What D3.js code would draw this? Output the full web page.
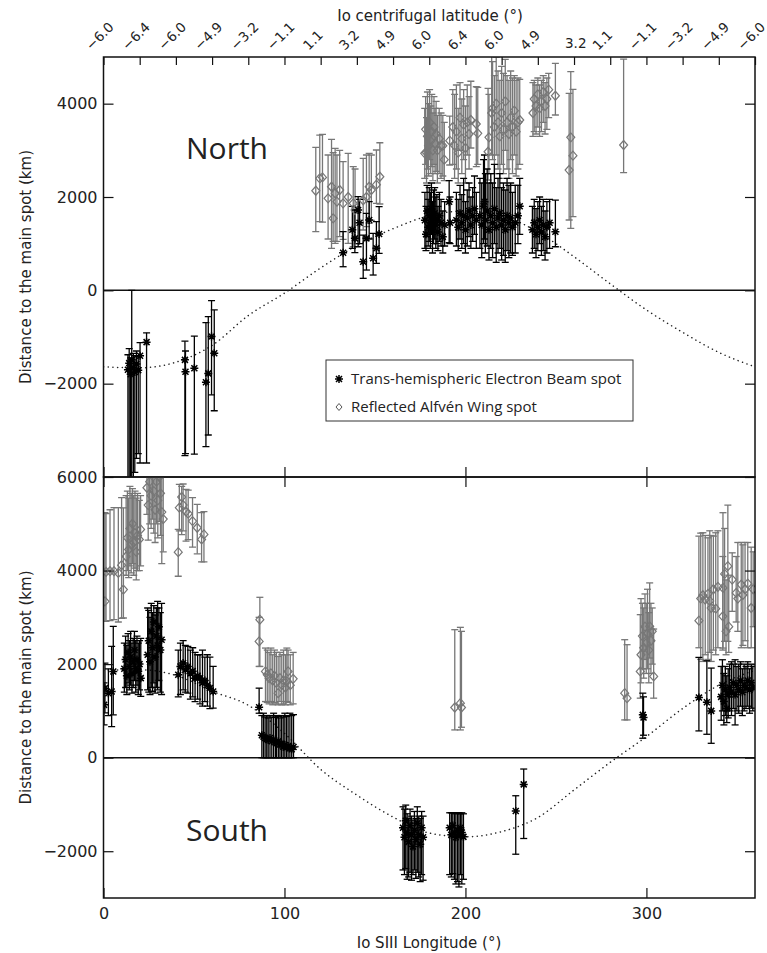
<!DOCTYPE html>
<html>
<head>
<meta charset="utf-8">
<script src="https://cdn.jsdelivr.net/npm/d3@7"></script>
<style>
body { margin: 0; background: #fff; }
svg { display: block; }
</style>
</head>
<body>
<svg id="chart" width="767" height="953"></svg>
<script>
// tick labels of the top axis (Io centrifugal latitude at every 20 deg of longitude)
const latLon = [0, 20, 40, 60, 80, 100, 120, 140, 160, 180, 200, 220, 240, 260, 280, 300, 320, 340, 360]
const latLabels = ["−6.0", "−6.4", "−6.0", "−4.9", "−3.2", "−1.1", "1.1", "3.2", "4.9", "6.0",
                   "6.4", "6.0", "4.9", "3.2", "1.1", "−1.1", "−3.2", "−4.9", "−6.0"]

// expected position (dotted curve), read every 20 deg
const curveLon = [0, 20, 40, 60, 80, 100, 120, 140, 160, 180, 200, 220, 240, 260, 280, 300, 320, 340, 360]
const northCurve = [-1640, -1660, -1540, -1180, -540, -60, 480, 960, 1320, 1600, 1700, 1600, 1250, 720, 140, -420, -900, -1330, -1640]
const southCurve = [1870, 1880, 1760, 1420, 1120, 520, -250, -800, -1270, -1610, -1693, -1580, -1280, -690, -100, 450, 1050, 1550, 1870]

// [longitude, distance, upper error, lower error]
const northBeam = [
  [13.5, -1700, -1380, -4200], [14.2, -1560, -1250, -4400], [15.0, -1800, -1450, -4300],
  [15.6, -1490, 0, -4500], [16.5, -1660, -1350, -4100], [17.3, -1750, -1400, -3900],
  [18.2, -1580, -1300, -3600], [19.2, -1710, -1420, -3500], [20.2, -1400, -1120, -3700],
  [23.8, -1110, -910, -3700],
  [45.0, -1490, -1090, -3540], [45.3, -1745, -1300, -3500], [50.2, -1670, -980, -3510],
  [56.6, -1970, -690, -3350], [57.9, -1780, -565, -3100], [59.7, -990, -220, -2240],
  [61.2, -1350, -420, -2580],
  [132.4, 806, 1256, 506], [137.5, 1300, 1800, 900], [138.9, 1114, 1721, 806],
  [140.7, 1721, 2006, 934], [141.5, 1450, 1950, 1000], [143.5, 613, 1185, 257],
  [145.3, 1114, 1650, 435], [146.8, 1507, 1900, 1100], [149.0, 686, 1221, 328],
  [150.8, 900, 1471, 578], [152.3, 1206, 1793, 793],
  [177.6, 1500, 2100, 900], [178.2, 1200, 1800, 850], [178.8, 1700, 2250, 1150],
  [179.4, 1350, 1950, 950], [180.0, 1600, 2200, 1050], [180.6, 1450, 2100, 900],
  [181.2, 1750, 2300, 1200], [181.8, 1300, 1900, 800], [182.4, 1550, 2150, 1000],
  [183.0, 1650, 2200, 1100], [183.6, 1400, 2000, 900], [184.2, 1500, 2050, 1000],
  [184.8, 1250, 1800, 850], [185.6, 1600, 2100, 1050], [186.5, 1450, 1950, 950],
  [187.5, 1150, 1700, 800], [188.5, 1400, 1900, 950], [191.0, 1900, 2350, 1020],
  [191.5, 1450, 2000, 1000],
  [195.0, 1500, 2100, 950], [196.0, 1350, 1950, 850], [197.0, 1650, 2250, 1100],
  [198.0, 1450, 2050, 900], [199.0, 1600, 2400, 1000], [200.0, 1300, 1900, 800],
  [201.0, 1550, 2150, 950], [202.0, 1700, 2300, 1150], [203.0, 1400, 2000, 900],
  [204.0, 1600, 2200, 1050], [205.0, 1750, 2450, 1200], [206.0, 1500, 2100, 900],
  [208.0, 1600, 2400, 900], [209.0, 1400, 2300, 700], [210.0, 1800, 2800, 1000],
  [210.5, 1900, 2900, 1100], [211.0, 1500, 2500, 800], [212.0, 1700, 2600, 950],
  [213.0, 1300, 2300, 650], [214.0, 1600, 2500, 900], [215.0, 1450, 2300, 700],
  [216.0, 1750, 2700, 1000], [217.0, 1350, 2200, 600], [218.0, 1550, 2400, 800],
  [219.0, 1650, 2500, 900], [220.0, 1400, 2200, 650], [221.0, 1500, 2300, 750],
  [222.0, 1300, 2150, 600], [223.0, 1600, 2400, 850], [224.0, 1450, 2250, 700],
  [225.0, 1550, 2300, 800], [226.0, 1350, 2100, 750], [227.5, 1450, 2250, 800],
  [229.0, 1600, 2250, 1000], [230.0, 1800, 2400, 1200],
  [237.0, 1300, 1800, 800], [238.0, 1450, 1950, 900], [239.0, 1200, 1750, 700],
  [240.0, 1350, 1900, 850], [241.0, 1500, 2000, 1000], [242.0, 1250, 1800, 750],
  [243.0, 1400, 1950, 850], [244.0, 1150, 1700, 650], [245.0, 1350, 1900, 800],
  [246.5, 1450, 1950, 900], [249.7, 1256, 1935, 934]
]

const northWing = [
  [117.3, 2134, 3064, 1256], [119.5, 2400, 3328, 1471], [121.0, 2420, 3340, 1460],
  [124.1, 1971, 2900, 1100], [126.0, 2220, 3235, 900], [126.9, 1543, 2950, 1050],
  [128.0, 2080, 3043, 1007], [129.0, 1900, 2900, 1050], [130.5, 2150, 3000, 1150],
  [132.4, 1864, 2757, 1093], [135.2, 2000, 2936, 1007], [138.0, 1864, 2650, 934],
  [139.0, 1720, 2600, 1000], [143.5, 1930, 2829, 1293], [145.3, 2000, 2900, 1364],
  [146.8, 2220, 2936, 1436], [148.0, 2150, 2900, 1500], [150.8, 2264, 3007, 1864],
  [152.7, 2434, 3163, 1850],
  [177.5, 2936, 3900, 2400], [178.0, 3450, 4150, 2700], [178.5, 2950, 3700, 2300],
  [179.0, 3300, 4250, 2600], [179.6, 3100, 4000, 2450], [180.2, 3600, 4300, 2800],
  [180.8, 3200, 3950, 2500], [181.4, 3400, 4200, 2650], [182.0, 3000, 3800, 2350],
  [182.6, 3500, 4150, 2700], [183.2, 3150, 3900, 2500], [183.8, 3350, 4050, 2550],
  [184.5, 3000, 3750, 2300], [185.5, 3250, 3900, 2500], [186.5, 3100, 3800, 2400],
  [187.5, 3100, 3750, 2450], [188.3, 2800, 3600, 2350], [191.3, 3207, 3735, 2686],
  [193.0, 3500, 4300, 2700], [194.0, 3100, 4200, 2400], [195.0, 3400, 4400, 2600],
  [196.0, 2950, 3900, 2300], [197.0, 3700, 4450, 3000], [198.0, 3250, 4100, 2500],
  [199.0, 3550, 4300, 2800], [200.0, 3050, 3950, 2300], [201.0, 3600, 4400, 2900],
  [202.0, 3350, 4150, 2600], [203.0, 3650, 4480, 3050], [206.0, 3564, 4363, 2650],
  [206.8, 3364, 4350, 2700], [212.5, 2970, 4328, 2364], [213.0, 3278, 4200, 2500],
  [214.5, 3800, 5200, 2900], [215.0, 3900, 4900, 2800], [216.0, 3500, 4600, 2500],
  [217.0, 4000, 5000, 2900], [218.0, 3600, 4700, 2600], [219.0, 3300, 4500, 2400],
  [220.0, 3800, 4800, 2700], [221.0, 3450, 4650, 2500], [222.0, 4050, 4950, 3000],
  [223.0, 3600, 4600, 2600], [224.0, 3350, 4500, 2400], [225.0, 3700, 4700, 2800],
  [226.0, 3500, 4550, 2500], [227.0, 3850, 4600, 2900], [228.0, 3400, 4500, 2450],
  [229.0, 3600, 4550, 2600], [230.0, 3650, 4520, 2700],
  [237.3, 3800, 4450, 3300], [238.0, 4100, 4500, 3400], [239.0, 3950, 4400, 3350],
  [240.0, 4200, 4550, 3500], [241.0, 3900, 4400, 3300], [242.0, 4050, 4500, 3400],
  [243.0, 4250, 4600, 3600], [244.0, 3950, 4450, 3350], [245.0, 4100, 4550, 3450],
  [246.0, 4300, 4650, 3700], [249.7, 4170, 4864, 3757],
  [257.3, 2578, 4220, 1507], [258.2, 3278, 4685, 1329], [259.4, 2885, 4307, 1579],
  [287.4, 3114, 4956, 2521]
]

const southBeam = [
  [0.3, 1129, 1600, 700], [0.8, 1486, 2023, 958], [2.7, 1379, 1900, 900],
  [4.5, 1414, 2378, 664], [5.4, 1843, 2807, 915],
  [11.5, 1900, 2450, 1400], [12.2, 2100, 2600, 1500], [12.9, 1750, 2400, 1350],
  [13.6, 2250, 2650, 1600], [14.3, 1950, 2500, 1450], [15.0, 2150, 2700, 1550],
  [15.7, 1800, 2450, 1380], [16.4, 2050, 2550, 1500], [17.1, 2300, 2700, 1650],
  [17.8, 1900, 2500, 1400], [18.5, 2100, 2600, 1550], [19.2, 1850, 2450, 1350],
  [19.9, 2000, 2500, 1450], [20.6, 1700, 2550, 1310],
  [24.4, 2200, 3200, 1450], [25.0, 2500, 3150, 1400], [25.7, 2050, 3000, 1350],
  [26.4, 2700, 3300, 1500], [27.1, 2350, 3100, 1420], [27.8, 2900, 3250, 1600],
  [28.5, 2150, 3050, 1380], [29.2, 2600, 3200, 1500], [29.9, 2400, 3343, 1450],
  [30.6, 2800, 3200, 1650], [31.4, 2300, 3100, 1400], [32.1, 2522, 3300, 1350],
  [41.3, 1772, 2300, 1300], [42.5, 1950, 2450, 1350], [44.0, 2023, 2500, 1450],
  [45.2, 1880, 2400, 1400], [46.6, 1950, 2380, 1380], [48.0, 1800, 2300, 1250],
  [49.3, 1850, 2350, 1300], [50.6, 1700, 2250, 1200], [52.0, 1750, 2200, 1250],
  [53.3, 1700, 2200, 1150], [54.7, 1600, 2300, 1100], [56.0, 1650, 2150, 1200],
  [57.4, 1550, 2200, 1100], [58.8, 1486, 2150, 1050], [60.6, 1414, 1950, 1060],
  [86.0, 1079, 1486, 950],
  [87.5, 480, 900, 0], [88.4, 450, 950, 0], [89.3, 420, 870, 0], [90.2, 400, 900, 0],
  [91.0, 379, 850, 0], [92.0, 420, 900, 0], [93.0, 350, 870, 0], [94.0, 390, 950, 0],
  [95.0, 330, 860, 0], [95.6, 307, 900, 0], [96.6, 350, 880, 0], [97.5, 280, 850, 0],
  [98.4, 300, 900, 0], [99.3, 236, 870, 0], [100.2, 270, 950, 0], [101.1, 220, 880, 0],
  [102.0, 250, 900, 0], [103.0, 200, 950, 0], [104.0, 180, 900, 0], [105.0, 230, 920, 0],
  [165.5, -1500, -1050, -2400], [166.3, -1700, -1100, -2500], [167.0, -1350, -1014, -2370],
  [167.8, -1600, -1200, -2600], [168.6, -1800, -1300, -2550], [169.4, -1450, -1100, -2450],
  [170.2, -1650, -1250, -2620], [171.0, -1900, -1335, -2500], [171.8, -1550, -1150, -2400],
  [172.6, -1750, -1300, -2580], [173.4, -1400, -1050, -2450], [174.2, -1650, -1250, -2550],
  [175.0, -1850, -1300, -2650], [175.8, -1500, -1150, -2500], [176.6, -1700, -1250, -2620],
  [191.3, -1500, -1178, -2500], [192.2, -1650, -1178, -2550], [193.0, -1450, -1178, -2480],
  [193.9, -1600, -1178, -2600], [194.7, -1700, -1200, -2700], [195.6, -1550, -1178, -2650],
  [196.4, -1650, -1178, -2764], [197.2, -1500, -1200, -2500], [198.0, -1600, -1178, -2700],
  [198.9, -1693, -1200, -2600],
  [227.8, -1142, -814, -2064], [232.2, -571, -243, -1728],
  [298.0, 915, 1379, 415], [298.4, 860, 1300, 480],
  [329.0, 1286, 2143, 572], [333.4, 1186, 2072, 500], [335.8, 1000, 1915, 307],
  [341.3, 1300, 1950, 800], [342.0, 1550, 2093, 1000], [342.8, 1200, 1800, 700],
  [343.6, 1450, 1950, 900], [344.4, 1050, 1750, 750], [345.2, 1350, 1900, 850],
  [346.0, 1500, 2000, 1000], [347.0, 1400, 2050, 900], [348.0, 1600, 2000, 1050],
  [349.0, 1350, 2093, 700], [350.0, 1550, 1950, 1000], [351.0, 1450, 2000, 950],
  [352.0, 1650, 2050, 1100], [353.0, 1400, 1900, 900], [354.0, 1550, 2000, 1000],
  [355.0, 1500, 1950, 1050], [356.0, 1650, 2050, 1100], [357.0, 1450, 1900, 950],
  [358.0, 1600, 2000, 1058], [358.8, 1500, 1950, 1000]
]

const southWing = [
  [0.8, 3343, 5237, 2914], [1.4, 3972, 5215, 2914], [3.6, 3986, 5300, 2930],
  [5.8, 3986, 5344, 2950], [8.2, 3950, 5344, 2900], [10.0, 4114, 5558, 2980],
  [11.0, 3593, 5340, 2986],
  [12.5, 4300, 5600, 3900], [13.2, 4700, 5700, 4000], [13.9, 4450, 5550, 3850],
  [14.6, 4900, 5800, 4100], [15.3, 4550, 5650, 3950], [16.0, 5000, 5750, 4150],
  [16.7, 4600, 5600, 3900], [17.4, 4800, 5700, 4050], [18.1, 4400, 5550, 3800],
  [18.8, 4750, 5650, 4000], [19.8, 4665, 5500, 4000], [20.5, 4880, 5600, 4100],
  [24.0, 5770, 6400, 5200], [24.7, 5400, 6500, 4650], [25.5, 5900, 6600, 5000],
  [26.3, 5600, 6500, 4900], [27.0, 6100, 6800, 5100], [27.8, 5700, 6500, 4800],
  [28.5, 5300, 6300, 4600], [29.3, 5900, 6700, 5000], [30.0, 5500, 6400, 4700],
  [30.8, 6000, 6800, 5050], [31.5, 5650, 6500, 4750], [32.2, 5250, 6200, 4150],
  [33.0, 5100, 6100, 4400],
  [41.3, 4393, 4880, 3878], [41.9, 5344, 5843, 4850], [43.2, 5572, 5800, 4770],
  [44.0, 5400, 5850, 4850], [45.6, 5258, 5736, 4628], [46.8, 5215, 5720, 4660],
  [49.2, 5057, 5558, 4500], [51.8, 4915, 5415, 4358], [54.2, 4665, 5237, 4186],
  [55.5, 4772, 5258, 4186],
  [86.0, 2486, 3000, 1950], [86.4, 2950, 3428, 1950],
  [89.5, 1843, 2343, 1200], [90.5, 1772, 2300, 1180], [91.5, 1700, 2250, 1150],
  [92.5, 1800, 2343, 1200], [93.5, 1650, 2200, 1130], [94.5, 1750, 2300, 1180],
  [95.5, 1600, 2250, 1150], [96.5, 1379, 2164, 1129], [97.5, 1700, 2250, 1200],
  [98.5, 1557, 2200, 1130], [99.5, 1650, 2300, 1150], [100.5, 1500, 2200, 1129],
  [101.3, 1630, 2343, 1200], [102.0, 1843, 2300, 1180], [103.2, 1550, 2200, 1130],
  [104.8, 1686, 2250, 1150],
  [194.1, 1072, 2736, 593], [197.2, 1165, 2786, 593], [197.8, 1072, 2700, 650],
  [288.0, 1379, 2522, 807], [289.3, 1272, 2415, 807],
  [296.6, 1843, 3057, 1272], [297.0, 2200, 3400, 1600], [297.8, 2600, 3300, 1900],
  [298.5, 2350, 3200, 1700], [299.2, 2800, 3500, 2100], [299.9, 2450, 3300, 1800],
  [300.6, 2650, 3600, 1900], [301.3, 2300, 3100, 1600], [301.8, 2807, 3736, 2130],
  [302.5, 2500, 3300, 1800], [303.2, 2700, 3200, 2000], [304.0, 1736, 2750, 1272],
  [329.0, 2929, 4736, 2350], [330.0, 3400, 4800, 2100], [331.2, 3472, 4808, 2057],
  [332.5, 3380, 4750, 2200], [334.0, 3500, 4700, 2100], [335.0, 3350, 4850, 2250],
  [335.8, 3200, 4750, 2057], [337.0, 3600, 4736, 2300], [338.3, 3186, 4808, 2200],
  [339.5, 3650, 4850, 2350], [342.2, 3022, 4300, 2300], [342.3, 3629, 5237, 2343],
  [343.2, 3929, 4900, 2486], [344.0, 2700, 3800, 2200], [345.0, 4093, 5400, 2486],
  [345.5, 2800, 3900, 2250], [347.4, 3807, 4379, 3128], [349.6, 3522, 4300, 2900],
  [350.5, 3400, 4600, 2700], [352.4, 3700, 4600, 2350], [353.3, 3479, 4550, 2400],
  [354.5, 3600, 4600, 2500], [356.0, 3722, 4600, 2350], [357.9, 3200, 4500, 2350],
  [359.0, 3600, 4400, 2800]
]

const dims = { left: 103.5, right: 755, top: 57, middle: 477, bottom: 898 }
const beamColor = "#000"
const wingColor = "#777"
const tickFont = "DejaVu Sans, sans-serif"

const svg = d3.select("#chart")

const xScale = d3.scaleLinear().domain([0, 360]).range([dims.left, dims.right])

const panels = [
  { name: "north", label: "North", labelY: 159, domain: [-4000, 5000], top: dims.top, bottom: dims.middle,
    curve: northCurve, beam: northBeam, wing: northWing, yTicks: [-2000, 0, 2000, 4000] },
  { name: "south", label: "South", labelY: 841, domain: [-3000, 6000], top: dims.middle, bottom: dims.bottom,
    curve: southCurve, beam: southBeam, wing: southWing, yTicks: [-2000, 0, 2000, 4000, 6000] }
]

function minorTicks(lo, hi, step) {
  return d3.range(lo, hi + step / 2, step)
}

panels.forEach(function(p) {
  const yScale = d3.scaleLinear().domain(p.domain).range([p.bottom, p.top])
  const h = p.bottom - p.top
  const w = dims.right - dims.left

  svg.append("clipPath").attr("id", "clip-" + p.name)
    .append("rect")
    .attr("x", dims.left).attr("y", p.top)
    .attr("width", w).attr("height", h)

  const plot = svg.append("g").attr("clip-path", "url(#clip-" + p.name + ")")

  // zero line
  plot.append("line")
    .attr("x1", dims.left).attr("x2", dims.right)
    .attr("y1", yScale(0)).attr("y2", yScale(0))
    .attr("stroke", "#111").attr("stroke-width", 1.5)

  // dotted expected position
  const line = d3.line()
    .x((d, i) => xScale(curveLon[i]))
    .y(d => yScale(d))
    .curve(d3.curveMonotoneX)
  plot.append("path")
    .datum(p.curve)
    .attr("d", line)
    .attr("fill", "none")
    .attr("stroke", "#222")
    .attr("stroke-width", 1.5)
    .attr("stroke-linecap", "round")
    .attr("stroke-dasharray", "0.1,4.6")

  function errorBars(data, color) {
    const g = plot.append("g").attr("stroke", color).attr("stroke-width", 1.3).attr("fill", "none")
    const bars = g.selectAll("g.bar").data(data).enter().append("g").attr("class", "bar")
    bars.append("line")
      .attr("x1", d => xScale(d[0])).attr("x2", d => xScale(d[0]))
      .attr("y1", d => yScale(d[2])).attr("y2", d => yScale(d[3]))
    bars.append("line")
      .attr("x1", d => xScale(d[0]) - 3.5).attr("x2", d => xScale(d[0]) + 3.5)
      .attr("y1", d => yScale(d[2])).attr("y2", d => yScale(d[2]))
    bars.append("line")
      .attr("x1", d => xScale(d[0]) - 3.5).attr("x2", d => xScale(d[0]) + 3.5)
      .attr("y1", d => yScale(d[3])).attr("y2", d => yScale(d[3]))
  }

  errorBars(p.wing, wingColor)
  errorBars(p.beam, beamColor)

  // diamonds
  plot.append("g").selectAll("path")
    .data(p.wing).enter().append("path")
    .attr("d", "M0,-4.5L4,0L0,4.5L-4,0Z")
    .attr("transform", d => `translate(${xScale(d[0])},${yScale(d[1])})`)
    .attr("fill", "none")
    .attr("stroke", wingColor)
    .attr("stroke-width", 1.2)

  // asterisks
  plot.append("g").selectAll("path")
    .data(p.beam).enter().append("path")
    .attr("d", "M-4,0H4M0,-4V4M-3,-3L3,3M-3,3L3,-3")
    .attr("transform", d => `translate(${xScale(d[0])},${yScale(d[1])})`)
    .attr("stroke", beamColor)
    .attr("stroke-width", 1.5)

  // y axes, ticks pointing inwards
  const yMinor = minorTicks(p.domain[0], p.domain[1], 500)
  const left = svg.append("g").attr("transform", `translate(${dims.left},0)`)
  left.call(d3.axisLeft(yScale).tickValues(yMinor).tickSize(-5).tickFormat(""))
  left.call(d3.axisLeft(yScale).tickValues(p.yTicks).tickSize(-10).tickPadding(6)
    .tickFormat(d => d < 0 ? "−" + Math.abs(d) : d))
  const right = svg.append("g").attr("transform", `translate(${dims.right},0)`)
  right.call(d3.axisRight(yScale).tickValues(yMinor).tickSize(-5).tickFormat(""))
  right.call(d3.axisRight(yScale).tickValues(p.yTicks).tickSize(-10).tickFormat(""))

  // bottom of each panel: 10 deg ticks
  const bottom = svg.append("g").attr("transform", `translate(0,${p.bottom})`)
  bottom.call(d3.axisBottom(xScale).tickValues(minorTicks(0, 360, 10)).tickSize(-5).tickFormat(""))
  bottom.call(d3.axisBottom(xScale).tickValues([0, 100, 200, 300]).tickSize(-10).tickPadding(10)
    .tickFormat(p.name == "south" ? d3.format("d") : ""))

  // top of each panel
  const top = svg.append("g").attr("transform", `translate(0,${p.top})`)
  if (p.name == "north") {
    top.call(d3.axisTop(xScale).tickValues(minorTicks(0, 360, 4)).tickSize(-4).tickFormat(""))
    top.call(d3.axisTop(xScale).tickValues(latLon).tickSize(-8).tickFormat(""))
  } else {
    top.call(d3.axisTop(xScale).tickValues(minorTicks(0, 360, 10)).tickSize(-5).tickFormat(""))
    top.call(d3.axisTop(xScale).tickValues([0, 100, 200, 300]).tickSize(-10).tickFormat(""))
  }

  // frame
  svg.append("rect")
    .attr("x", dims.left).attr("y", p.top)
    .attr("width", w).attr("height", h)
    .attr("fill", "none").attr("stroke", "#111").attr("stroke-width", 1.5)

  svg.append("text")
    .text(p.label)
    .attr("x", 186).attr("y", p.labelY)
    .attr("font-family", "Open Sans, sans-serif")
    .attr("font-size", "30px")
    .attr("fill", "#222")

  svg.append("text")
    .text("Distance to the main spot (km)")
    .attr("transform", `translate(31,${(p.top + p.bottom) / 2}) rotate(-90)`)
    .attr("text-anchor", "middle")
    .attr("font-family", tickFont)
    .attr("font-size", "15px")
    .attr("fill", "#222")
})

svg.selectAll(".tick line").attr("stroke", "#111").attr("stroke-width", 1.2)
svg.selectAll(".domain").remove()
svg.selectAll(".tick text")
  .attr("font-family", tickFont)
  .attr("font-size", "16px")
  .attr("fill", "#222")

// top latitude labels
svg.append("g").selectAll("text")
  .data(latLon).enter().append("text")
  .text((d, i) => latLabels[i])
  .attr("transform", (d, i) => i == 13
    ? `translate(${xScale(d) - 9},${48})`
    : `translate(${xScale(d) - 12},${51}) rotate(-45)`)
  .attr("font-family", tickFont)
  .attr("font-size", "13.5px")
  .attr("fill", "#222")

svg.append("text")
  .text("Io centrifugal latitude (°)")
  .attr("x", 430).attr("y", 21)
  .attr("text-anchor", "middle")
  .attr("font-family", tickFont)
  .attr("font-size", "15px")
  .attr("fill", "#222")

svg.append("text")
  .text("Io SIII Longitude (°)")
  .attr("x", 429).attr("y", 948)
  .attr("text-anchor", "middle")
  .attr("font-family", tickFont)
  .attr("font-size", "15px")
  .attr("fill", "#222")

// legend
const legend = svg.append("g")
legend.append("rect")
  .attr("x", 326).attr("y", 360).attr("width", 307).attr("height", 61)
  .attr("fill", "#fff").attr("stroke", "#333").attr("stroke-width", 1)
legend.append("path")
  .attr("d", "M-4,0H4M0,-4V4M-3,-3L3,3M-3,3L3,-3")
  .attr("transform", "translate(339,379)")
  .attr("stroke", beamColor).attr("stroke-width", 1.5)
legend.append("path")
  .attr("d", "M0,-3.5L3,0L0,3.5L-3,0Z")
  .attr("transform", "translate(339,407)")
  .attr("fill", "none").attr("stroke", "#555").attr("stroke-width", 1)
legend.append("text")
  .text("Trans-hemispheric Electron Beam spot")
  .attr("x", 351).attr("y", 384)
  .attr("font-family", "Open Sans, sans-serif").attr("font-size", "15px").attr("fill", "#222")
legend.append("text")
  .text("Reflected Alfvén Wing spot")
  .attr("x", 351).attr("y", 412)
  .attr("font-family", "Open Sans, sans-serif").attr("font-size", "15px").attr("fill", "#222")
</script>
</body>
</html>
